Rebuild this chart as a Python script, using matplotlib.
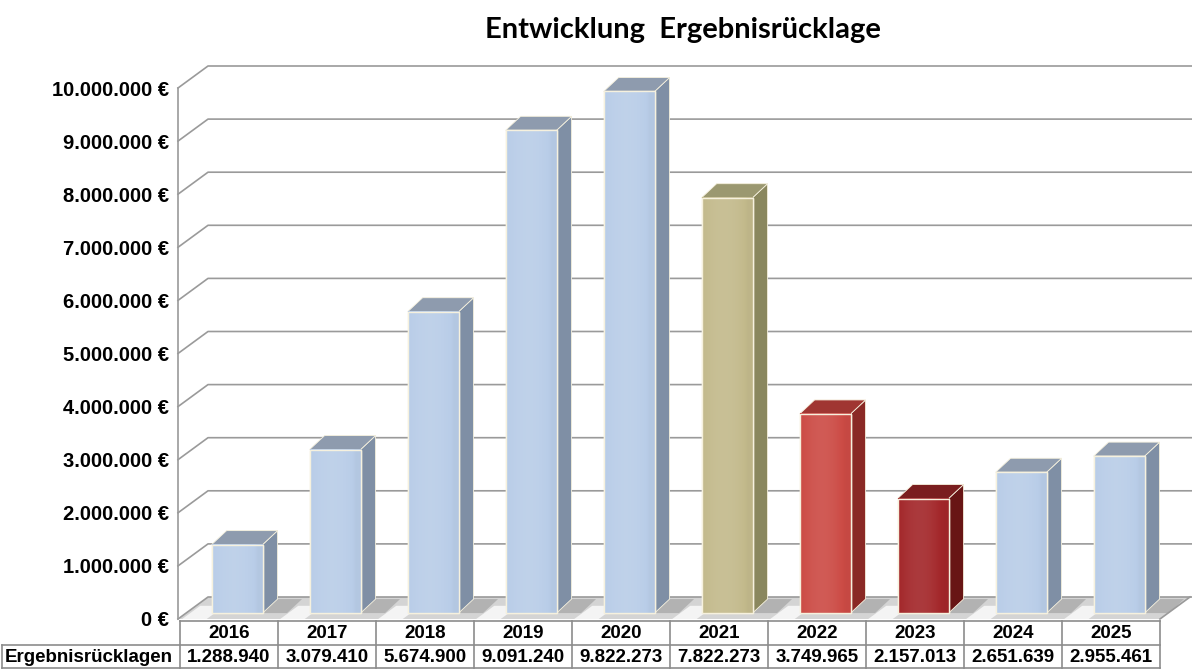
import numpy as np
import matplotlib
matplotlib.use('Agg')
import matplotlib.pyplot as plt
from matplotlib.colors import to_rgb
from matplotlib.patches import Polygon
from matplotlib.transforms import blended_transform_factory


# data
years = ['2016', '2017', '2018', '2019', '2020', '2021', '2022', '2023', '2024', '2025']
values = [1288940, 3079410, 5674900, 9091240, 9822273, 7822273, 3749965, 2157013, 2651639, 2955461]
kinds = ['blue', 'blue', 'blue', 'blue', 'blue', 'olive', 'red', 'darkred', 'blue', 'blue']
row_label = 'Ergebnisrücklagen'
title = 'Entwicklung  Ergebnisrücklage'
y_ticks = list(range(0, 10000001, 1000000))

# colours: front, side, top
palette = {
    'blue':    ('#B9CDE8', '#7F8FA5', '#8E9BAE'),
    'olive':   ('#C3BA8C', '#8A875E', '#9B9870'),
    'red':     ('#CC4B45', '#8A2925', '#A03632'),
    'darkred': ('#A3272A', '#681515', '#7A1E1F'),
}

W, H = 1192, 671
PXX = 98.0          # px per category
PXY = 53.1 / 1e6    # px per euro
DX = 30 / PXX       # full depth (wall) in data units
DY = 22 / PXY
F = 0.27            # bar front position in depth
BDX = 15 / PXX      # bar depth
BDY = 14 / PXY
BW = 0.52

FONT = 'Liberation Sans'


def fmt(v):
    return f'{v:,.0f}'.replace(',', '.')


def grad_face(ax, x0, x1, y0, y1, color, zorder):
    # soft horizontal sheen on the front face
    t = np.linspace(0, 1, 60)
    base = np.array(to_rgb(color))
    light = 0.10 * np.sin(np.pi * np.clip(t * 1.1, 0, 1)) - 0.03 * t
    img = np.empty((1, len(t), 3))
    for k in range(3):
        img[0, :, k] = np.where(light > 0, base[k] + (1 - base[k]) * light, base[k] * (1 + light))
    im = ax.imshow(np.clip(img, 0, 1), extent=(x0, x1, y0, y1), aspect='auto',
                   interpolation='bilinear', zorder=zorder, clip_on=False)
    return im


def main():
    fig = plt.figure(figsize=(W / 100, H / 100), dpi=100)
    fig.patch.set_facecolor('white')
    ax = fig.add_axes([180 / W, (H - 619) / H, 980 / W, (619 - 88) / H])
    ax.set_xlim(-0.5, 9.5)
    ax.set_ylim(0, 10e6)
    for s in ax.spines.values():
        s.set_visible(False)
    ax.patch.set_visible(False)

    x = np.arange(len(years))
    xl = -0.5 - 2 / PXX
    xr_edge = 9.5 + (W - 1160) / PXX

    # floor
    floor = Polygon([(xl, 0), (9.5, 0), (9.5 + DX, DY), (xl + DX, DY)], closed=True,
                    facecolor='#D4D4D4', edgecolor='none', zorder=1, clip_on=False)
    ax.add_patch(floor)
    ax.plot([9.5, 9.5 + DX], [0, DY], color='#9A9A9A', lw=1.2, zorder=1.5, clip_on=False)

    # gridlines with slanted wall part
    for v in y_ticks:
        ax.plot([xl, xl + DX, xr_edge], [v, v + DY, v + DY], color='#9A9A9A', lw=1.2,
                zorder=1.2, clip_on=False)
    ax.plot([xl, xl], [0, 10e6], color='#9A9A9A', lw=1.2, zorder=1.5, clip_on=False)

    # bars
    xs = x + F * DX
    bars = ax.bar(xs, values, width=BW, bottom=F * DY, color=[palette[k][0] for k in kinds],
                  edgecolor='#F6F1DE', linewidth=1.0, zorder=3)
    for b, v, k in zip(bars, values, kinds):
        front, side, top = palette[k]
        x0 = b.get_x()
        x1 = x0 + b.get_width()
        y0 = F * DY
        y1 = y0 + v
        # light streak between bars and darker shadow behind each bar
        ax.add_patch(Polygon([(x0 - 0.30, 0), (x0 - 0.05, 0), (x0 - 0.05 + DX * 0.6, DY * 0.6),
                              (x0 - 0.30 + DX * 0.6, DY * 0.6)],
                             closed=True, facecolor='white', edgecolor='none', alpha=0.75,
                             zorder=1.25, clip_on=False))
        ax.add_patch(Polygon([(x1, y0), (x1 + 0.25, y0), (x1 + 0.25 + BDX, y0 + BDY),
                              (x1 + BDX, y0 + BDY)],
                             closed=True, facecolor='#A4A4A4', edgecolor='none', alpha=0.7,
                             zorder=1.3, clip_on=False))
        im = grad_face(ax, x0, x1, y0, y1, front, 3.1)
        im.set_clip_path(b)
        ax.add_patch(Polygon([(x1, y0), (x1 + BDX, y0 + BDY), (x1 + BDX, y1 + BDY), (x1, y1)],
                             closed=True, facecolor=side, edgecolor='#F6F1DE', lw=0.6,
                             zorder=2.9, clip_on=False))
        ax.add_patch(Polygon([(x0, y1), (x0 + BDX, y1 + BDY), (x1 + BDX, y1 + BDY), (x1, y1)],
                             closed=True, facecolor=top, edgecolor='#F6F1DE', lw=0.6,
                             zorder=2.9, clip_on=False))
        ax.add_patch(Polygon([(x0, y0), (x1, y0), (x1, y1), (x0, y1)], closed=True,
                             facecolor='none', edgecolor='#F6F1DE', lw=1.0, zorder=3.2,
                             clip_on=False))
    ax.set_xlim(-0.5, 9.5)
    ax.set_ylim(0, 10e6)

    # y axis labels
    ax.set_xticks([])
    ax.set_yticks(y_ticks)
    ax.set_yticklabels([fmt(v) + ' €' for v in y_ticks], fontsize=14.5, fontweight='bold',
                       family=FONT)
    ax.tick_params(axis='y', length=0, pad=8)

    # table below the plot
    tr = blended_transform_factory(ax.transData, fig.transFigure)

    def fy(py):
        return 1 - py / H

    t_top, t_mid, t_bot = 621, 645, 668
    lc = '#8C8C8C'
    xb = [-0.5 + k for k in range(len(years) + 1)]
    x_lab = -0.5 - 178 / PXX
    ax.plot([xb[0], xb[-1]], [fy(t_top)] * 2, color=lc, lw=1.2, transform=tr, clip_on=False)
    ax.plot([x_lab, xb[-1]], [fy(t_mid)] * 2, color=lc, lw=1.2, transform=tr, clip_on=False)
    ax.plot([x_lab, xb[-1]], [fy(t_bot)] * 2, color=lc, lw=1.2, transform=tr, clip_on=False)
    for xv in xb:
        ax.plot([xv, xv], [fy(t_top), fy(t_bot)], color=lc, lw=1.2, transform=tr, clip_on=False)
    ax.plot([x_lab, x_lab], [fy(t_mid), fy(t_bot)], color=lc, lw=1.2, transform=tr, clip_on=False)

    for xi, yr, v in zip(x, years, values):
        ax.text(xi, fy((t_top + t_mid) / 2 + 1), yr, ha='center', va='center', fontsize=13.5,
                fontweight='bold', family=FONT, transform=tr)
        ax.text(xi, fy((t_mid + t_bot) / 2 + 1), fmt(v), ha='center', va='center', fontsize=13.5,
                fontweight='bold', family=FONT, transform=tr)
    ax.text(x_lab + 3 / PXX, fy((t_mid + t_bot) / 2 + 1), row_label, ha='left', va='center',
            fontsize=13.5, fontweight='bold', family=FONT, transform=tr)

    fig.text(683 / W, fy(30), title, ha='center', va='center', fontsize=21,
             fontweight='bold', family='Lato')

    fig.savefig('out.png', dpi=100, facecolor='white')


if __name__ == "__main__":
    main()
